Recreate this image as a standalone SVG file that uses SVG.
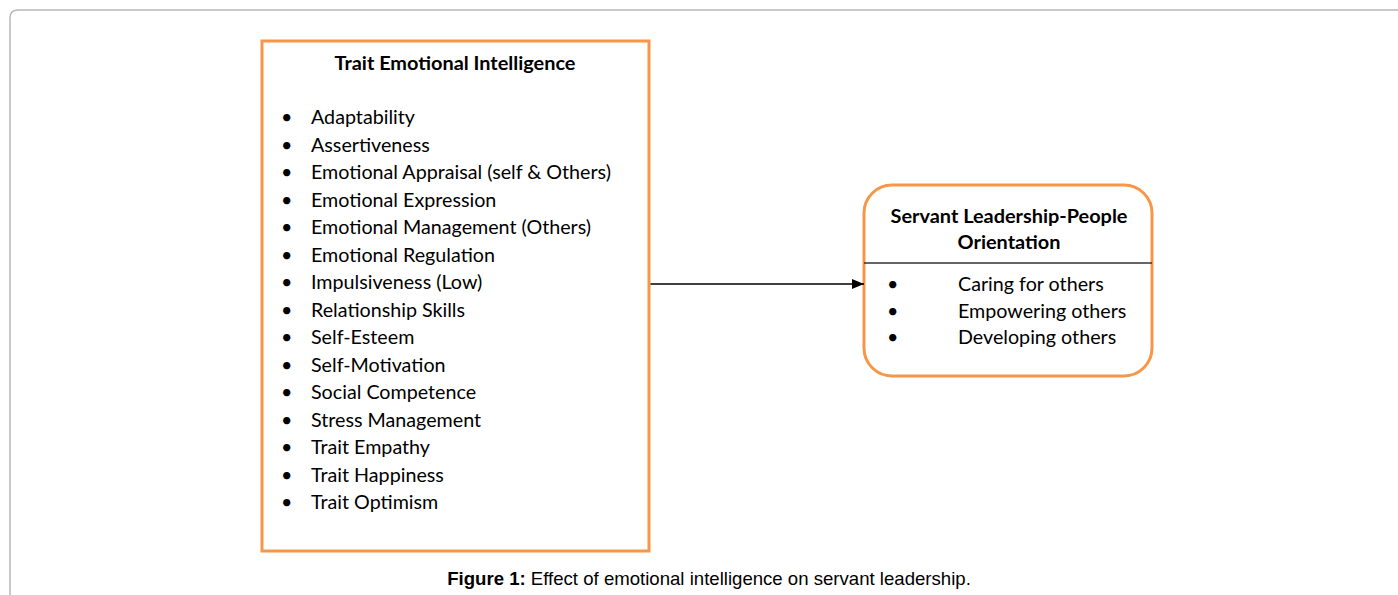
<svg xmlns="http://www.w3.org/2000/svg" width="1398" height="595" viewBox="0 0 1398 595">
  <style>
    .box { fill: #ffffff; stroke: #F79646; stroke-width: 3; }
    .t { font-family: Lato, "Open Sans", "Liberation Sans", sans-serif; font-size: 19.7px; fill: #000000; }
    .b { font-weight: bold; font-size: 19.9px; }
    .cap { font-family: "Liberation Sans", Arial, sans-serif; font-size: 18.6px; fill: #000000; }
    .conn { stroke: #000000; stroke-width: 1.5; fill: none; }
  </style>
  <defs>
    <marker id="arrow" viewBox="0 0 12 10" refX="12" refY="5" markerWidth="12" markerHeight="10" markerUnits="userSpaceOnUse" orient="auto">
      <path d="M0,0 L12,5 L0,10 z" fill="#000000"/>
    </marker>
  </defs>
  <rect width="1398" height="595" fill="#ffffff"/>
  <path d="M10,595 V18 Q10,10 18,10 H1398" fill="none" stroke="#b8b8b8" stroke-width="1.5"/>

  <g id="trait-ei">
    <rect class="box" x="262" y="41" width="387" height="510"/>
    <text class="t b" x="455" y="70" text-anchor="middle">Trait Emotional Intelligence</text>
    <g class="t">
      <text x="281" y="124">•</text><text x="311" y="124">Adaptability</text>
      <text x="281" y="151.5">•</text><text x="311" y="151.5">Assertiveness</text>
      <text x="281" y="179">•</text><text x="311" y="179">Emotional Appraisal (self &amp; Others)</text>
      <text x="281" y="206.5">•</text><text x="311" y="206.5">Emotional Expression</text>
      <text x="281" y="234">•</text><text x="311" y="234">Emotional Management (Others)</text>
      <text x="281" y="261.5">•</text><text x="311" y="261.5">Emotional Regulation</text>
      <text x="281" y="289">•</text><text x="311" y="289">Impulsiveness (Low)</text>
      <text x="281" y="316.5">•</text><text x="311" y="316.5">Relationship Skills</text>
      <text x="281" y="344">•</text><text x="311" y="344">Self-Esteem</text>
      <text x="281" y="371.5">•</text><text x="311" y="371.5">Self-Motivation</text>
      <text x="281" y="399">•</text><text x="311" y="399">Social Competence</text>
      <text x="281" y="426.5">•</text><text x="311" y="426.5">Stress Management</text>
      <text x="281" y="454">•</text><text x="311" y="454">Trait Empathy</text>
      <text x="281" y="481.5">•</text><text x="311" y="481.5">Trait Happiness</text>
      <text x="281" y="509">•</text><text x="311" y="509">Trait Optimism</text>
    </g>
  </g>

  <g id="servant-leadership">
    <rect class="box" x="864" y="185" width="288" height="191" rx="28" ry="28"/>
    <text class="t b" x="1009" y="223" text-anchor="middle">Servant Leadership-People</text>
    <text class="t b" x="1009" y="249" text-anchor="middle">Orientation</text>
    <line x1="864" y1="263" x2="1152" y2="263" stroke="#333333" stroke-width="1.5"/>
    <g class="t">
      <text x="887" y="291">•</text><text x="958" y="291">Caring for others</text>
      <text x="887" y="318">•</text><text x="958" y="318">Empowering others</text>
      <text x="887" y="344">•</text><text x="958" y="344">Developing others</text>
    </g>
  </g>

  <g id="connectors">
    <line class="conn" x1="650.5" y1="284" x2="864" y2="284" marker-end="url(#arrow)"/>
  </g>

  <text class="cap" x="709" y="585" text-anchor="middle"><tspan font-weight="bold">Figure 1:</tspan> Effect of emotional intelligence on servant leadership.</text>
</svg>
